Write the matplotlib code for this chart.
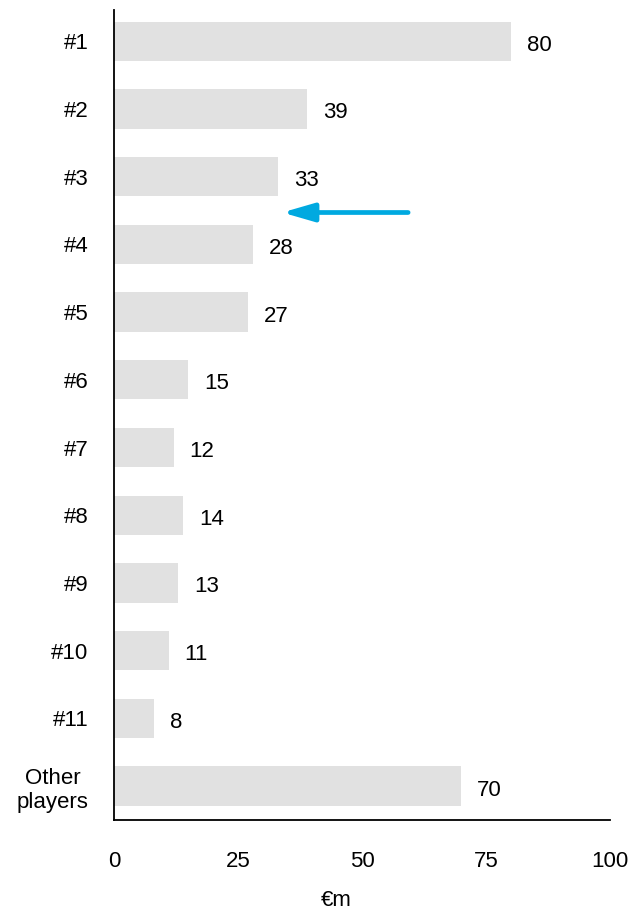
import matplotlib
matplotlib.use("Agg")
import matplotlib.pyplot as plt
from matplotlib.transforms import offset_copy

plt.rcParams['font.family'] = ['Liberation Sans', 'DejaVu Sans']

categories = ["#1", "#2", "#3", "#4", "#5", "#6", "#7", "#8", "#9", "#10", "#11", "Other\nplayers"]
values = [80, 39, 33, 28, 27, 15, 12, 14, 13, 11, 8, 70]
x_ticks = [0, 25, 50, 75, 100]

bar_color = "#e1e1e1"
arrow_color = "#00a9e0"
fs = 16

fig = plt.figure(figsize=(6.32, 9.10), dpi=100)
ax = fig.add_axes([114 / 632, 1 - 820 / 910, (610 - 114) / 632, (820 - 10) / 910])

pos = list(range(len(categories)))
ax.barh(pos, values, height=0.58, color=bar_color, edgecolor="none")

ax.set_xlim(0, 100)
ax.set_ylim(len(categories) - 0.5, -0.46)
ax.set_xticks(x_ticks)
ax.set_xticklabels([str(t) for t in x_ticks])
ax.set_yticks(pos)
ax.set_yticklabels(categories, ha="right", multialignment="center", linespacing=1.2)
ax.tick_params(axis="x", length=0, pad=22.5, labelsize=fs)
ax.tick_params(axis="y", length=0, pad=18.5, labelsize=fs)

for side in ("top", "right"):
    ax.spines[side].set_visible(False)
ax.spines["left"].set_linewidth(1.3)
ax.spines["bottom"].set_linewidth(1.3)

label_tf = offset_copy(ax.transData, fig=fig, x=16, y=-4, units="dots")
for p, v in zip(pos, values):
    ax.text(v, p, str(v), transform=label_tf, ha="left", va="center", fontsize=fs)

# highlight arrow between #3 and #4
ax.annotate("", xy=(33.9, 2.53), xytext=(59.3, 2.53),
            arrowprops=dict(arrowstyle="-|>,head_length=1.9,head_width=0.55",
                            color=arrow_color, lw=3.4, shrinkA=0, shrinkB=0))

fig.text(336 / 632, 1 - 901 / 910, "€m", ha="center", va="center", fontsize=fs)

fig.savefig("out.png", dpi=100)
